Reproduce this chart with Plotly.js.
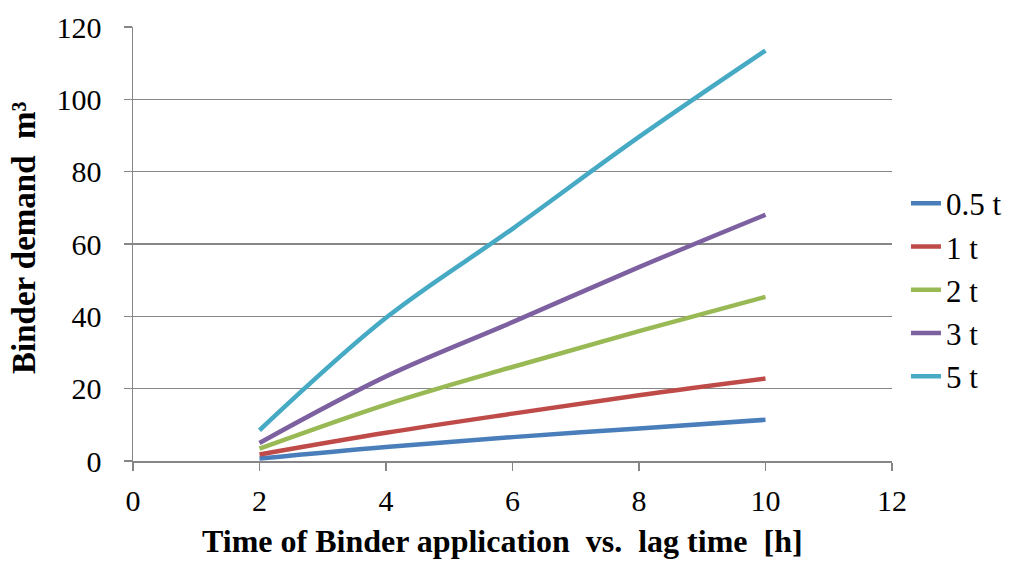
<!DOCTYPE html>
<html>
<head>
<meta charset="utf-8">
<script src="https://cdn.plot.ly/plotly-3.0.1.min.js"></script>
<style>html,body{margin:0;padding:0;background:#fff;}#chart{width:1014px;height:562px;}</style>
</head>
<body>
<div id="chart"></div>
<script>
const xValues = [2, 4, 6, 8, 10];
const seriesNames = ["0.5 t", "1 t", "2 t", "3 t", "5 t"];
const s05 = [0.7, 3.9, 6.6, 9.0, 11.4];
const s1 = [1.8, 7.8, 13.1, 18.2, 22.8];
const s2 = [3.4, 15.6, 26.0, 35.9, 45.4];
const s3 = [5.0, 23.4, 38.4, 53.6, 68.1];
const s5 = [8.5, 39.6, 64.2, 89.6, 113.5];
const seriesValues = [s05, s1, s2, s3, s5];
const colors = ["#4A7EBB", "#BE4B48", "#98B954", "#7D60A0", "#46AAC5"];
const xTitle = "Time of Binder application  vs.  lag time  [h]";
const yTitle = "Binder demand  m³";

const FAMILY = "Liberation Serif";
function f(size) { return {family: FAMILY, size: size, color: "#000"}; }

const traces = seriesNames.map((name, i) => ({
  x: xValues,
  y: seriesValues[i],
  name: name,
  legendgroup: "g" + i,
  type: "scatter",
  mode: "lines",
  line: {color: colors[i], width: 4.5, shape: "spline", smoothing: 1}
}));

const layout = {
  width: 1014, height: 562,
  margin: {l: 133, r: 122, t: 27, b: 101, autoexpand: false},
  paper_bgcolor: "#fff", plot_bgcolor: "#fff",
  font: f(30),
  showlegend: true,
  legend: {x: 1.0184, xanchor: "left", y: 0.394, yanchor: "middle",
           font: f(31), tracegroupgap: 0, itemwidth: 30, bgcolor: "rgba(0,0,0,0)"},
  xaxis: {
    range: [0, 12], dtick: 2, tick0: 0,
    showgrid: false, zeroline: false,
    showline: true, linecolor: "#868686", linewidth: 1.5,
    ticks: "outside", ticklen: 8, tickcolor: "#868686", tickwidth: 1.5,
    tickfont: f(30), ticklabelstandoff: 4
  },
  yaxis: {
    range: [0, 120], dtick: 20, tick0: 0,
    showgrid: true, gridcolor: "#868686", gridwidth: 1.5,
    zeroline: false,
    showline: true, linecolor: "#868686", linewidth: 1.5,
    ticks: "outside", ticklen: 8, tickcolor: "#868686", tickwidth: 1.5,
    tickfont: f(30), ticklabelstandoff: 16
  },
  annotations: [
    {text: "<b>" + xTitle + "</b>", xref: "paper", yref: "paper",
     x: (502 - 133) / 759, y: -(561 - 461) / 434, xanchor: "center", yanchor: "bottom",
     showarrow: false, font: f(32)},
    {text: "<b>" + yTitle + "</b>", xref: "paper", yref: "paper",
     x: (24 - 133) / 759, y: (461 - 238) / 434, xanchor: "center", yanchor: "middle",
     textangle: -90, showarrow: false, font: f(33)}
  ]
};

Plotly.newPlot("chart", traces, layout, {displayModeBar: false, staticPlot: true});
</script>
</body>
</html>
